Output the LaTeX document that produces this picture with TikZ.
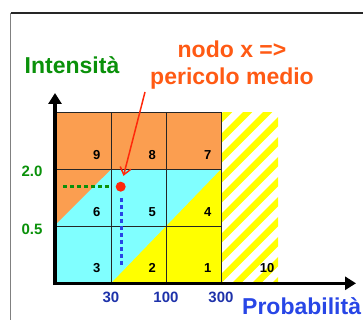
\documentclass[tikz,border=0pt]{standalone}
\usepackage{fontspec}
\setmainfont{Liberation Sans}
\usetikzlibrary{arrows.meta}
\definecolor{cOrange}{RGB}{251,158,80}
\definecolor{cCyan}{RGB}{128,255,255}
\definecolor{cYellow}{RGB}{255,255,0}
\definecolor{cGreen}{RGB}{10,145,10}
\definecolor{cTick}{RGB}{30,50,170}
\definecolor{cBlue}{RGB}{40,70,230}
\definecolor{cTitle}{RGB}{255,90,20}
\definecolor{cRed}{RGB}{255,40,10}
\begin{document}
\begin{tikzpicture}[x=1pt,y=1pt,
  big/.style={font=\fontsize{23}{27.6}\selectfont\bfseries, inner sep=0pt, anchor=base},
  ticklab/.style={font=\fontsize{15}{18}\selectfont\bfseries, inner sep=0pt, anchor=base},
  cellnum/.style={font=\fontsize{13}{15}\selectfont\bfseries, inner sep=0pt, anchor=base},
  gridline/.style={draw=black!85, line width=0.9pt},
  axisline/.style={line width=3.5pt, -{Triangle[length=11pt,width=13pt]}},
  hatchline/.style={draw=cYellow, line width=6.5pt},
  guide/.style={line width=3pt, dash pattern=on 4pt off 3pt}]
\useasboundingbox (0,0) rectangle (363,320);
% frame
\draw[black!85, line width=1.2pt] (10.5,307) -- (363,307);
\draw[black!50, line width=1.4pt] (10.5,307) -- (10.5,0);
% fills
\fill[cOrange] (56.7,150.7) rectangle (221,207.3);
\fill[cCyan] (56.7,36.7) rectangle (221,150.7);
\fill[cOrange] (56.7,150.7) -- (111,150.7) -- (56.7,96.7) -- cycle;
\fill[cYellow] (111,36.7) -- (221,36.7) -- (221,150.7) -- cycle;
% hatch
\begin{scope}
\clip (221,36.7) rectangle (278,207.3);
\foreach \k in {-1,...,12}
  \draw[hatchline] ({39.7+\k*20},20) -- ({249.7+\k*20},230);
\end{scope}
% grid
\draw[gridline] (56.7,36.7) rectangle (221,207.3);
\draw[gridline] (111,36.7) -- (111,207.3);
\draw[gridline] (166,36.7) -- (166,207.3);
\draw[gridline] (56.7,93.3) -- (221,93.3);
\draw[gridline] (56.7,150.7) -- (221,150.7);
% cell numbers
\node[cellnum] (n9) at (96.7,160.7) {9};
\node[cellnum] (n8) at (152.3,160.7) {8};
\node[cellnum] (n7) at (207.7,160.7) {7};
\node[cellnum] (n6) at (96.7,103.3) {6};
\node[cellnum] (n5) at (152.3,103.3) {5};
\node[cellnum] (n4) at (207.7,103.3) {4};
\node[cellnum] (n3) at (96.7,47.3) {3};
\node[cellnum] (n2) at (152.3,47.3) {2};
\node[cellnum] (n1) at (207.7,47.3) {1};
\node[cellnum] (n10) at (267,47.3) {10};
% axes
\coordinate (orig) at (55,36.7);
\coordinate (ytip) at (55,227);
\coordinate (xtip) at (356,36.7);
\draw[axisline] ([yshift=-1.75pt]orig) -- (ytip);
\draw[axisline] ([xshift=-1.75pt]orig) -- (xtip);
% labels
\node[big, text=cGreen] (ylab) at (72,246.7) {Intensità};
\node[big, text=cTitle] (t1) at (232,262.7) {nodo x =>};
\node[big, text=cTitle] (t2) at (232,235) {pericolo medio};
\node[big, text=cBlue, anchor=base west] (xlab) at (242,5.7) {Probabilità};
\node[ticklab, text=cGreen] (y20) at (32,143.3) {2.0};
\node[ticklab, text=cGreen] (y05) at (32,85) {0.5};
\node[ticklab, text=cTick] (x30) at (111,17.7) {30};
\node[ticklab, text=cTick] (x100) at (166,17.7) {100};
\node[ticklab, text=cTick] (x300) at (221,17.7) {300};
% point and guides
\node[circle, fill=cRed, minimum size=10pt, inner sep=0pt] (dot) at (120.7,133.3) {};
\coordinate (gL) at (63,133.3);
\coordinate (gR) at (110,133.3);
\coordinate (bT) at (121,122);
\coordinate (bB) at (121,54);
\draw[guide, draw=cGreen] (gL) -- (gR);
\draw[guide, draw=cBlue] (bT) -- (bB);
\coordinate (arrS) at (145,228);
\draw[cRed, line width=1.5pt, shorten >=6pt, -{Straight Barb[length=7pt,width=11pt]}] (arrS) -- (dot);
\end{tikzpicture}
\end{document}
